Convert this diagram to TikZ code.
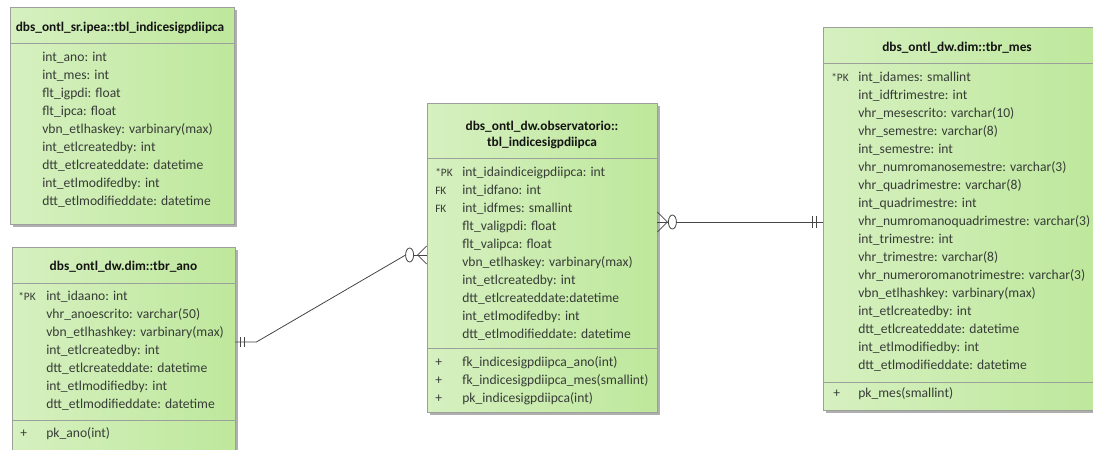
\documentclass[tikz,border=0pt]{standalone}
\usepackage{fontspec}
\setmainfont{Carlito}
\usepackage{tikz}
\usetikzlibrary{positioning, calc, fit}
\definecolor{boxleft}{RGB}{214,240,192}
\definecolor{boxright}{RGB}{190,232,156}
\definecolor{boxframe}{RGB}{155,160,155}
\definecolor{boxshadow}{RGB}{175,175,175}
\definecolor{coltext}{RGB}{55,60,55}
\definecolor{titletext}{RGB}{20,20,20}
\definecolor{relgray}{RGB}{70,70,70}
\tikzset{
  tblshadow/.style={fill=boxshadow, draw=none},
  tblbox/.style={draw=boxframe, left color=boxleft, right color=boxright,
    line width=0.6pt, inner sep=0pt},
  sepline/.style={draw=boxframe, line width=0.6pt},
  tbltitle/.style={font=\fontsize{10}{12}\selectfont\bfseries, text=titletext,
    anchor=base, inner sep=0pt},
  colname/.style={font=\fontsize{10.2}{12}\selectfont, text=coltext,
    anchor=base west, inner sep=0pt},
  keymark/.style={font=\fontsize{8.5}{10}\selectfont, text=coltext,
    anchor=base west, inner sep=0pt},
  relline/.style={draw=relgray, line width=0.6pt},
  optcircle/.style={draw=relgray, fill=white, line width=0.6pt}
}

\begin{document}
\begin{tikzpicture}[x=0.75pt, y=-0.75pt]
  \clip (0,0) rectangle (1093,450);
  \fill[white] (0,0) rectangle (1093,450);

  % ── dbs_ontl_sr.ipea::tbl_indicesigpdiipca ─────────────────────────────────
  \fill[tblshadow] (13,10) rectangle (237,227);
  \node[tblbox, fit={(10,7) (234,224)}] (sr) {};
  \node[tbltitle] (sr-t) at (120,31) {dbs\_ontl\_sr.ipea::tbl\_indicesigpdiipca};
  \draw[sepline] (10,43) -- (234,43);
  \foreach \txt [count=\i from 0] in {int\_ano: int, int\_mes: int, flt\_igpdi: float,
      flt\_ipca: float, vbn\_etlhaskey: varbinary(max), int\_etlcreatedby: int,
      dtt\_etlcreateddate: datetime, int\_etlmodifedby: int,
      dtt\_etlmodifieddate: datetime}
    \node[colname] (sr-r\i) at (42,61+18*\i) {\txt};

  % ── dbs_ontl_dw.dim::tbr_ano ───────────────────────────────────────────────
  \fill[tblshadow] (15,250) rectangle (238,470);
  \node[tblbox, fit={(12,247) (235,466)}] (ano) {};
  \node[tbltitle] (ano-t) at (123.5,270) {dbs\_ontl\_dw.dim::tbr\_ano};
  \draw[sepline] (12,283) -- (235,283);
  \node[keymark] (ano-k) at (18,300) {*PK};
  \foreach \txt [count=\i from 0] in {int\_idaano: int, vhr\_anoescrito: varchar(50),
      vbn\_etlhashkey: varbinary(max), int\_etlcreatedby: int,
      dtt\_etlcreateddate: datetime, int\_etlmodifiedby: int,
      dtt\_etlmodifieddate: datetime}
    \node[colname] (ano-r\i) at (46,300+18*\i) {\txt};
  \draw[sepline] (12,420) -- (235,420);
  \node[colname] (ano-p) at (20,437) {+};
  \node[colname] (ano-m) at (46,437) {pk\_ano(int)};

  % ── dbs_ontl_dw.observatorio::tbl_indicesigpdiipca ─────────────────────────
  \fill[tblshadow] (430,106) rectangle (660,415);
  \node[tblbox, fit={(427,103) (657,412)}] (obs) {};
  \node[tbltitle] (obs-t1) at (542,130) {dbs\_ontl\_dw.observatorio::};
  \node[tbltitle] (obs-t2) at (542,146) {tbl\_indicesigpdiipca};
  \draw[sepline] (427,158) -- (657,158);
  \foreach \k/\i in {*PK/0, FK/1, FK/2}
    \node[keymark] (obs-k\i) at (435,176+18*\i) {\k};
  \foreach \txt [count=\i from 0] in {int\_idaindiceigpdiipca: int, int\_idfano: int,
      int\_idfmes: smallint, flt\_valigpdi: float, flt\_valipca: float,
      vbn\_etlhaskey: varbinary(max), int\_etlcreatedby: int,
      dtt\_etlcreateddate:datetime, int\_etlmodifedby: int,
      dtt\_etlmodifieddate: datetime}
    \node[colname] (obs-r\i) at (462,176+18*\i) {\txt};
  \draw[sepline] (427,348) -- (657,348);
  \foreach \txt [count=\i from 0] in {fk\_indicesigpdiipca\_ano(int),
      fk\_indicesigpdiipca\_mes(smallint), pk\_indicesigpdiipca(int)} {
    \node[colname] (obs-p\i) at (435,366+18*\i) {+};
    \node[colname] (obs-m\i) at (462,366+18*\i) {\txt};
  }

  % ── dbs_ontl_dw.dim::tbr_mes ───────────────────────────────────────────────
  \fill[tblshadow] (826,30) rectangle (1100,413);
  \node[tblbox, fit={(823,27) (1097,410)}] (mes) {};
  \node[tbltitle] (mes-t) at (957,51) {dbs\_ontl\_dw.dim::tbr\_mes};
  \draw[sepline] (823,63) -- (1097,63);
  \node[keymark] (mes-k) at (831,81) {*PK};
  \foreach \txt [count=\i from 0] in {int\_idames: smallint, int\_idftrimestre: int,
      vhr\_mesescrito: varchar(10), vhr\_semestre: varchar(8), int\_semestre: int,
      vhr\_numromanosemestre: varchar(3), vhr\_quadrimestre: varchar(8),
      int\_quadrimestre: int, vhr\_numromanoquadrimestre: varchar(3),
      int\_trimestre: int, vhr\_trimestre: varchar(8),
      vhr\_numeroromanotrimestre: varchar(3), vbn\_etlhashkey: varbinary(max),
      int\_etlcreatedby: int, dtt\_etlcreateddate: datetime,
      int\_etlmodifiedby: int, dtt\_etlmodifieddate: datetime}
    \node[colname] (mes-r\i) at (858,81+18*\i) {\txt};
  \draw[sepline] (823,382) -- (1097,382);
  \node[colname] (mes-p) at (833,397) {+};
  \node[colname] (mes-m) at (858,397) {pk\_mes(smallint)};

  % ── relationships ──────────────────────────────────────────────────────────
  \coordinate (anoR) at (ano.east |- 0,342);
  \coordinate (obsL) at (obs.west |- 0,255);
  \coordinate (obsR) at (obs.east |- 0,222);
  \coordinate (mesL) at (mes.west |- 0,222);

  % tbr_ano (one) to tbl_indicesigpdiipca (zero or many)
  \draw[relline] (anoR) -- ++(21,0) -- ($(obsL)+(-21,0)$);
  \draw[relline] ($(anoR)+(5,-5)$) -- ++(0,10);
  \draw[relline] ($(anoR)+(9,-5)$) -- ++(0,10);
  \draw[relline] ($(obsL)+(-13,0)$) -- (obsL);
  \draw[relline] ($(obsL)+(-9,0)$) -- ($(obsL)+(0,-9)$);
  \draw[relline] ($(obsL)+(-9,0)$) -- ($(obsL)+(0,9)$);
  \draw[optcircle] ($(obsL)+(-17,0)$) ellipse [x radius=4, y radius=7];

  % tbr_mes (one) to tbl_indicesigpdiipca (zero or many)
  \draw[relline] (obsR) -- ($(obsR)+(11,0)$);
  \draw[relline] ($(obsR)+(19,0)$) -- (mesL);
  \draw[relline] ($(obsR)+(10,0)$) -- ($(obsR)+(0,-10)$);
  \draw[relline] ($(obsR)+(10,0)$) -- ($(obsR)+(0,10)$);
  \draw[optcircle] ($(obsR)+(15,0)$) ellipse [x radius=4, y radius=7];
  \draw[relline] ($(mesL)+(-10,-6)$) -- ++(0,12);
  \draw[relline] ($(mesL)+(-6,-6)$) -- ++(0,12);
\end{tikzpicture}
\end{document}
